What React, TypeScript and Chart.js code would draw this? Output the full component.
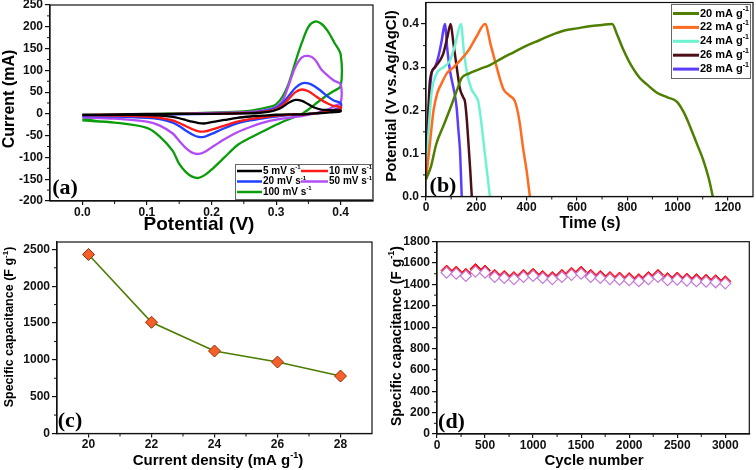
import React, { useEffect, useRef } from "react";
import { Chart, registerables } from "chart.js";
Chart.register(...registerables);

const FONT = "'Liberation Sans', Arial, sans-serif";
const SERIF = "'Liberation Serif', 'Times New Roman', serif";

// ---------------- (a) Cyclic voltammetry ----------------
const CV_FWD_V = [0, 0.05, 0.1, 0.15, 0.2, 0.25, 0.27, 0.29, 0.3, 0.31, 0.32, 0.33, 0.34, 0.35, 0.36, 0.37, 0.38, 0.39, 0.4];
const CV_REV_V = [0.4, 0.39, 0.38, 0.37, 0.36, 0.35, 0.34, 0.33, 0.32, 0.3, 0.28, 0.26, 0.24, 0.22, 0.2, 0.19, 0.18, 0.17, 0.16, 0.15, 0.14, 0.12, 0.1, 0.05, 0];
const CV5_FWD = [-2, -1, 0, 0, 0, 1, 2, 5, 9, 16, 26, 32, 30, 22, 14, 10, 9, 8, 8];
const CV5_REV = [6, 4, 3, 2, 1, 0, -1, -1, -1, -2, -4, -6, -9, -14, -19, -22, -21, -18, -14, -10, -7, -4, -3, -2, -2];
const CV10_FWD = [-3, -2, -1, 0, 0, 2, 3, 7, 11, 20, 35, 50, 56, 52, 42, 32, 24, 18, 16];
const CV10_REV = [12, 8, 5, 3, 1, 0, -1, -1, -2, -4, -8, -12, -18, -27, -36, -40, -40, -35, -28, -21, -15, -9, -6, -4, -3];
const CV20_FWD = [-5, -3, -2, -1, 0, 2, 4, 9, 14, 25, 42, 60, 70, 70, 63, 52, 40, 30, 25];
const CV20_REV = [15, 10, 6, 3, 1, 0, -1, -2, -3, -6, -10, -15, -22, -33, -46, -52, -53, -47, -38, -28, -20, -12, -9, -6, -5];
const CV50_FWD = [-8, -4, -2, 0, 2, 4, 6, 11, 16, 30, 68, 108, 130, 133, 125, 102, 88, 76, 68];
const CV50_REV = [26, 18, 10, 5, 1, -2, -5, -7, -9, -13, -20, -30, -42, -58, -77, -87, -92, -89, -78, -62, -45, -27, -18, -11, -8];
const CV100_FWD = [-13, -5, -1, 1, 3, 6, 10, 16, 22, 40, 72, 120, 164, 200, 212, 207, 190, 164, 136];
const CV100_REV = [64, 53, 44, 33, 22, 10, 0, -6, -12, -25, -40, -55, -72, -100, -128, -140, -147, -144, -133, -115, -85, -52, -32, -20, -15];
const CV_LABELS = ["5 mV s^{-1}", "10 mV s^{-1}", "20 mV s^{-1}", "50 mV s^{-1}", "100 mV s^{-1}"];
const A_X_TICKS = [0, 0.1, 0.2, 0.3, 0.4];
const A_X_MINOR = [0.05, 0.15, 0.25, 0.35];
const A_Y_TICKS = [-200, -150, -100, -50, 0, 50, 100, 150, 200, 250];
const A_Y_MINOR = [-175, -125, -75, -25, 25, 75, 125, 175, 225];

// ---------------- (b) Charge-discharge ----------------
const GCD20_T = [0, 20, 40, 70, 100, 122, 142, 170, 210, 254, 300, 350, 400, 453, 500, 550, 600, 650, 700, 740, 760, 785, 820, 850, 878, 920, 960, 997, 1025, 1050, 1075, 1102, 1125, 1140];
const GCD20_V = [0.04, 0.07, 0.12, 0.165, 0.21, 0.245, 0.275, 0.285, 0.295, 0.305, 0.32, 0.335, 0.35, 0.363, 0.375, 0.385, 0.39, 0.395, 0.398, 0.4, 0.375, 0.34, 0.3, 0.275, 0.26, 0.24, 0.23, 0.22, 0.195, 0.162, 0.125, 0.085, 0.04, 0];
const GCD22_T = [0, 15, 30, 45, 60, 82, 110, 135, 170, 200, 235, 258, 281, 307, 330, 354, 370, 387, 400, 413];
const GCD22_V = [0.04, 0.12, 0.2, 0.24, 0.26, 0.285, 0.3, 0.315, 0.34, 0.37, 0.4, 0.35, 0.3, 0.25, 0.235, 0.22, 0.18, 0.108, 0.06, 0];
const GCD24_T = [0, 10, 22, 42, 70, 95, 115, 139, 150, 162, 180, 195, 208, 218, 228, 242, 254];
const GCD24_V = [0.05, 0.15, 0.24, 0.285, 0.3, 0.315, 0.35, 0.4, 0.34, 0.29, 0.25, 0.235, 0.22, 0.18, 0.13, 0.06, 0];
const GCD26_T = [0, 8, 16, 36, 55, 69, 85, 98, 108, 122, 135, 148, 155, 162, 168, 176, 182];
const GCD26_V = [0.05, 0.18, 0.27, 0.3, 0.315, 0.332, 0.37, 0.4, 0.36, 0.3, 0.25, 0.23, 0.22, 0.18, 0.13, 0.06, 0];
const GCD28_T = [0, 6, 13, 22, 35, 49, 62, 75, 85, 95, 108, 115, 122, 128, 135, 139, 142];
const GCD28_V = [0.05, 0.15, 0.22, 0.285, 0.3, 0.324, 0.36, 0.4, 0.34, 0.293, 0.255, 0.235, 0.205, 0.16, 0.108, 0.05, 0];
const GCD_LABELS = ["20 mA g^{-1}", "22 mA g^{-1}", "24 mA g^{-1}", "26 mA g^{-1}", "28 mA g^{-1}"];
const B_X_TICKS = [0, 200, 400, 600, 800, 1000, 1200];
const B_X_MINOR = [100, 300, 500, 700, 900, 1100];
const B_Y_TICKS = [0, 0.1, 0.2, 0.3, 0.4];
const B_Y_MINOR = [0.05, 0.15, 0.25, 0.35];

// ---------------- (c) Capacitance vs current density ----------------
const CURRENT_DENSITY = [20, 22, 24, 26, 28];
const CAP_C = [2430, 1510, 1120, 970, 780];
const C_X_TICKS = [20, 22, 24, 26, 28];
const C_X_MINOR = [21, 23, 25, 27];
const C_Y_TICKS = [0, 500, 1000, 1500, 2000, 2500];
const C_Y_MINOR = [250, 750, 1250, 1750, 2250];

// ---------------- (d) Cycling stability ----------------
const CYCLES = [100, 200, 300, 400, 500, 600, 700, 800, 900, 1000, 1100, 1200, 1300, 1400, 1500, 1600, 1700, 1800, 1900, 2000, 2100, 2200, 2300, 2400, 2500, 2600, 2700, 2800, 2900, 3000];
const CAP_D_CHARGE = [1530, 1520, 1500, 1545, 1530, 1490, 1480, 1470, 1490, 1500, 1480, 1470, 1490, 1510, 1520, 1490, 1480, 1470, 1465, 1460, 1450, 1470, 1490, 1460, 1465, 1455, 1450, 1445, 1440, 1430];
const CAP_D_DISCHARGE = [1510, 1500, 1480, 1520, 1510, 1470, 1460, 1450, 1470, 1480, 1460, 1450, 1470, 1490, 1500, 1470, 1460, 1450, 1445, 1440, 1430, 1450, 1470, 1440, 1445, 1435, 1430, 1425, 1420, 1410];
const D_X_TICKS = [0, 500, 1000, 1500, 2000, 2500, 3000];
const D_X_MINOR = [250, 750, 1250, 1750, 2250, 2750];
const D_Y_TICKS = [0, 200, 400, 600, 800, 1000, 1200, 1400, 1600, 1800];
const D_Y_MINOR = [100, 300, 500, 700, 900, 1100, 1300, 1500, 1700];

// ---------------- helpers ----------------
function richParts(s: string) {
  const out: { t: string; sup: boolean }[] = [];
  const re = /\^\{([^}]*)\}/g;
  let last = 0;
  let m: RegExpExecArray | null;
  while ((m = re.exec(s))) {
    if (m.index > last) out.push({ t: s.slice(last, m.index), sup: false });
    out.push({ t: m[1], sup: true });
    last = re.lastIndex;
  }
  if (last < s.length) out.push({ t: s.slice(last), sup: false });
  return out;
}

function drawRich(ctx: CanvasRenderingContext2D, s: string, x: number, y: number, size: number, family: string, align: string) {
  const ps = richParts(s);
  const sup = Math.round(size * 0.62);
  let total = 0;
  const ws = ps.map((p) => {
    ctx.font = `bold ${p.sup ? sup : size}px ${family}`;
    const w = ctx.measureText(p.t).width;
    total += w;
    return w;
  });
  let cx = align === "center" ? x - total / 2 : align === "right" ? x - total : x;
  ctx.textAlign = "left";
  ctx.textBaseline = "middle";
  ps.forEach((p, i) => {
    ctx.font = `bold ${p.sup ? sup : size}px ${family}`;
    ctx.fillText(p.t, cx, p.sup ? y - size * 0.36 : y);
    cx += ws[i];
  });
}

type Txt = { t: string; x: number; y: number; size: number; rot?: boolean; serif?: boolean };
type LegItem = { x: number; y: number; len: number };
type DecoCfg = {
  ox: number;
  oy: number;
  texts: Txt[];
  minorX: number[];
  minorY: number[];
  legend?: { box: [number, number, number, number]; items: LegItem[]; size: number; lw: number };
};

function decoPlugin(cfg: DecoCfg) {
  return {
    id: "deco",
    afterDatasetsDraw(chart: any) {
      const ctx: CanvasRenderingContext2D = chart.ctx;
      const a = chart.chartArea;
      ctx.save();
      ctx.strokeStyle = "#111";
      ctx.lineWidth = 1.2;
      ctx.strokeRect(a.left, a.top, a.right - a.left, a.bottom - a.top);
      ctx.lineWidth = 1;
      const xs = chart.scales.x;
      const ys = chart.scales.y;
      ctx.beginPath();
      cfg.minorX.forEach((v) => {
        const p = xs.getPixelForValue(v);
        ctx.moveTo(p, a.bottom);
        ctx.lineTo(p, a.bottom + 3);
      });
      cfg.minorY.forEach((v) => {
        const p = ys.getPixelForValue(v);
        ctx.moveTo(a.left, p);
        ctx.lineTo(a.left - 3, p);
      });
      ctx.stroke();
      ctx.restore();
    },
    afterDraw(chart: any) {
      const ctx: CanvasRenderingContext2D = chart.ctx;
      ctx.save();
      ctx.fillStyle = "#000";
      cfg.texts.forEach((t) => {
        const fam = t.serif ? SERIF : FONT;
        const x = t.x - cfg.ox;
        const y = t.y - cfg.oy;
        if (t.rot) {
          ctx.save();
          ctx.translate(x, y);
          ctx.rotate(-Math.PI / 2);
          drawRich(ctx, t.t, 0, 0, t.size, fam, "center");
          ctx.restore();
        } else {
          drawRich(ctx, t.t, x, y, t.size, fam, "center");
        }
      });
      const lg = cfg.legend;
      if (lg) {
        const [bx, by, bw, bh] = lg.box;
        ctx.fillStyle = "#fff";
        ctx.fillRect(bx - cfg.ox, by - cfg.oy, bw, bh);
        ctx.strokeStyle = "#666";
        ctx.lineWidth = 1;
        ctx.strokeRect(bx - cfg.ox + 0.5, by - cfg.oy + 0.5, bw, bh);
        lg.items.forEach((it, i) => {
          const ds = chart.data.datasets[i];
          const x = it.x - cfg.ox;
          const y = it.y - cfg.oy;
          ctx.strokeStyle = ds.borderColor;
          ctx.lineWidth = lg.lw;
          ctx.beginPath();
          ctx.moveTo(x, y);
          ctx.lineTo(x + it.len, y);
          ctx.stroke();
          ctx.fillStyle = "#000";
          drawRich(ctx, ds.label, x + it.len + 1, y, lg.size, FONT, "left");
        });
      }
      ctx.restore();
    },
  };
}

function lin(min: number, max: number, ticks: number[], fmt: (v: number) => string, size: number, horizontal: boolean) {
  return {
    type: "linear",
    min,
    max,
    position: horizontal ? "bottom" : "left",
    afterBuildTicks: (s: any) => {
      s.ticks = ticks.map((v) => ({ value: v }));
    },
    afterFit: (s: any) => {
      if (horizontal) s.height = size;
      else s.width = size;
      s.paddingLeft = 0;
      s.paddingRight = 0;
      s.paddingTop = 0;
      s.paddingBottom = 0;
    },
    ticks: {
      callback: (v: number) => fmt(v),
      autoSkip: false,
      maxRotation: 0,
      minRotation: 0,
      padding: horizontal ? 0 : 2,
      color: "#111",
      font: { family: FONT, size: 12, weight: "bold" },
    },
    grid: { drawOnChartArea: false, drawTicks: true, tickLength: horizontal ? 4 : 5, color: "#111", lineWidth: 1.2 },
    border: { display: true, color: "#111", width: 1.2 },
  };
}

type Box = { ox: number; oy: number; W: number; H: number; L: number; T: number; R: number; B: number };

function baseConfig(b: Box, datasets: any[], xs: any, ys: any, deco: DecoCfg) {
  return {
    type: "scatter",
    data: { datasets },
    options: {
      responsive: false,
      animation: false,
      devicePixelRatio: 1,
      layout: { padding: { left: 0, top: b.T - b.oy, right: b.W - (b.R - b.ox), bottom: 0 } },
      plugins: { legend: { display: false }, tooltip: { enabled: false } },
      scales: { x: xs, y: ys },
    },
    plugins: [decoPlugin(deco)],
  };
}

function pairs(xs: number[], ys: number[]) {
  return xs.map((x, i) => ({ x, y: ys[i] }));
}

// ---------------- panel configs ----------------
const BOX_A: Box = { ox: 0, oy: 0, W: 385, H: 235, L: 50, T: 5, R: 373, B: 201 };
const BOX_B: Box = { ox: 385, oy: 0, W: 371, H: 235, L: 426, T: 2.5, R: 753, B: 196.5 };
const BOX_C: Box = { ox: 0, oy: 235, W: 385, H: 235, L: 57, T: 237, R: 372, B: 433.5 };
const BOX_D: Box = { ox: 385, oy: 235, W: 371, H: 235, L: 437, T: 240.5, R: 753, B: 434 };

function configA() {
  const b = BOX_A;
  const series = [
    [CV5_FWD, CV5_REV, "#000000"],
    [CV10_FWD, CV10_REV, "#ff1a1a"],
    [CV20_FWD, CV20_REV, "#2040ff"],
    [CV50_FWD, CV50_REV, "#b44cf5"],
    [CV100_FWD, CV100_REV, "#0b9c0b"],
  ] as [number[], number[], string][];
  const datasets = series.map(([f, r, c], i) => ({
    label: CV_LABELS[i],
    data: [...pairs(CV_FWD_V, f), ...pairs(CV_REV_V, r)],
    showLine: true,
    borderColor: c,
    backgroundColor: c,
    borderWidth: 2.3,
    pointRadius: 0,
    tension: 0.3,
  }));
  const xs = lin(-0.05, 0.45, A_X_TICKS, (v) => v.toFixed(1), b.H - (b.B - b.oy), true);
  const ys = lin(-200, 250, A_Y_TICKS, (v) => String(v), b.L - b.ox, false);
  return baseConfig(b, datasets, xs, ys, {
    ox: b.ox,
    oy: b.oy,
    minorX: A_X_MINOR,
    minorY: A_Y_MINOR,
    texts: [
      { t: "Current (mA)", x: 10, y: 99, size: 16, rot: true },
      { t: "Potential (V)", x: 199, y: 225, size: 19 },
      { t: "(a)", x: 65, y: 188, size: 22, serif: true },
    ],
    legend: {
      box: [235, 164, 137, 35],
      size: 10,
      lw: 2.5,
      items: [
        { x: 237, y: 171, len: 25 },
        { x: 301, y: 171, len: 27 },
        { x: 237, y: 181.5, len: 25 },
        { x: 301, y: 181.5, len: 27 },
        { x: 237, y: 192, len: 25 },
      ],
    },
  });
}

function configB() {
  const b = BOX_B;
  const series = [
    [GCD20_T, GCD20_V, "#4f7f00"],
    [GCD22_T, GCD22_V, "#ff6b1f"],
    [GCD24_T, GCD24_V, "#6df2d2"],
    [GCD26_T, GCD26_V, "#4d0f17"],
    [GCD28_T, GCD28_V, "#5b3cff"],
  ] as [number[], number[], string][];
  const datasets = series.map(([t, v, c], i) => ({
    label: GCD_LABELS[i],
    data: pairs(t, v),
    showLine: true,
    borderColor: c,
    backgroundColor: c,
    borderWidth: 2.5,
    pointRadius: 0,
    cubicInterpolationMode: "monotone",
  }));
  const xs = lin(0, 1300, B_X_TICKS, (v) => String(v), b.H - (b.B - b.oy), true);
  const ys = lin(0, 0.45, B_Y_TICKS, (v) => v.toFixed(1), b.L - b.ox, false);
  return baseConfig(b, datasets, xs, ys, {
    ox: b.ox,
    oy: b.oy,
    minorX: B_X_MINOR,
    minorY: B_Y_MINOR,
    texts: [
      { t: "Potential (V vs.Ag/AgCl)", x: 392, y: 96, size: 15, rot: true },
      { t: "Time (s)", x: 590, y: 224, size: 16 },
      { t: "(b)", x: 443, y: 186, size: 22, serif: true },
    ],
    legend: {
      box: [671, 4, 79, 74],
      size: 11,
      lw: 3,
      items: [0, 1, 2, 3, 4].map((i) => ({ x: 673, y: 13.5 + 13.9 * i, len: 26 })),
    },
  });
}

function configC() {
  const b = BOX_C;
  const datasets = [
    {
      label: "Cs",
      data: pairs(CURRENT_DENSITY, CAP_C),
      showLine: true,
      borderColor: "#4b7d00",
      borderWidth: 1.6,
      pointStyle: "rectRot",
      pointRadius: 6,
      pointBackgroundColor: "#f4602a",
      pointBorderColor: "#9a2a08",
      pointBorderWidth: 1,
    },
  ];
  const xs = lin(19, 29, C_X_TICKS, (v) => String(v), b.H - (b.B - b.oy), true);
  const ys = lin(0, 2600, C_Y_TICKS, (v) => String(v), b.L - b.ox, false);
  return baseConfig(b, datasets, xs, ys, {
    ox: b.ox,
    oy: b.oy,
    minorX: C_X_MINOR,
    minorY: C_Y_MINOR,
    texts: [
      { t: "Specific capacitance (F g^{-1})", x: 10, y: 327, size: 12.5, rot: true },
      { t: "Current density (mA g^{-1})", x: 218, y: 461, size: 15 },
      { t: "(c)", x: 70, y: 421, size: 22, serif: true },
    ],
  });
}

function configD() {
  const b = BOX_D;
  const datasets = [
    {
      label: "discharge",
      data: pairs(CYCLES, CAP_D_DISCHARGE),
      showLine: false,
      pointStyle: "rectRot",
      pointRadius: 5.5,
      pointBackgroundColor: "#ffffff",
      pointBorderColor: "#c47ad8",
      pointBorderWidth: 1.2,
      borderColor: "#c47ad8",
    },
    {
      label: "charge",
      data: pairs(CYCLES, CAP_D_CHARGE),
      showLine: true,
      borderColor: "#111",
      borderWidth: 1.2,
      pointStyle: "rectRot",
      pointRadius: 5.5,
      pointBackgroundColor: "#ff1010",
      pointBorderColor: "#ff1010",
      pointBorderWidth: 1,
    },
  ];
  const xs = lin(0, 3250, D_X_TICKS, (v) => String(v), b.H - (b.B - b.oy), true);
  const ys = lin(0, 1800, D_Y_TICKS, (v) => String(v), b.L - b.ox, false);
  return baseConfig(b, datasets, xs, ys, {
    ox: b.ox,
    oy: b.oy,
    minorX: D_X_MINOR,
    minorY: D_Y_MINOR,
    texts: [
      { t: "Specific capacitance (F g^{-1})", x: 397, y: 336, size: 14, rot: true },
      { t: "Cycle number", x: 594, y: 461, size: 15 },
      { t: "(d)", x: 451.5, y: 422, size: 22, serif: true },
    ],
  });
}

function Panel({ box, make }: { box: Box; make: () => any }) {
  const ref = useRef<HTMLCanvasElement | null>(null);
  useEffect(() => {
    const chart = new Chart(ref.current as HTMLCanvasElement, make());
    return () => chart.destroy();
  }, []);
  return (
    <canvas
      ref={ref}
      width={box.W}
      height={box.H}
      style={{ position: "absolute", left: box.ox, top: box.oy, width: box.W, height: box.H }}
    />
  );
}

export default function App() {
  return (
    <div style={{ position: "absolute", left: 0, top: 0, width: 756, height: 470, background: "#fff", overflow: "hidden" }}>
      <Panel box={BOX_A} make={configA} />
      <Panel box={BOX_C} make={configC} />
      <Panel box={BOX_B} make={configB} />
      <Panel box={BOX_D} make={configD} />
    </div>
  );
}
